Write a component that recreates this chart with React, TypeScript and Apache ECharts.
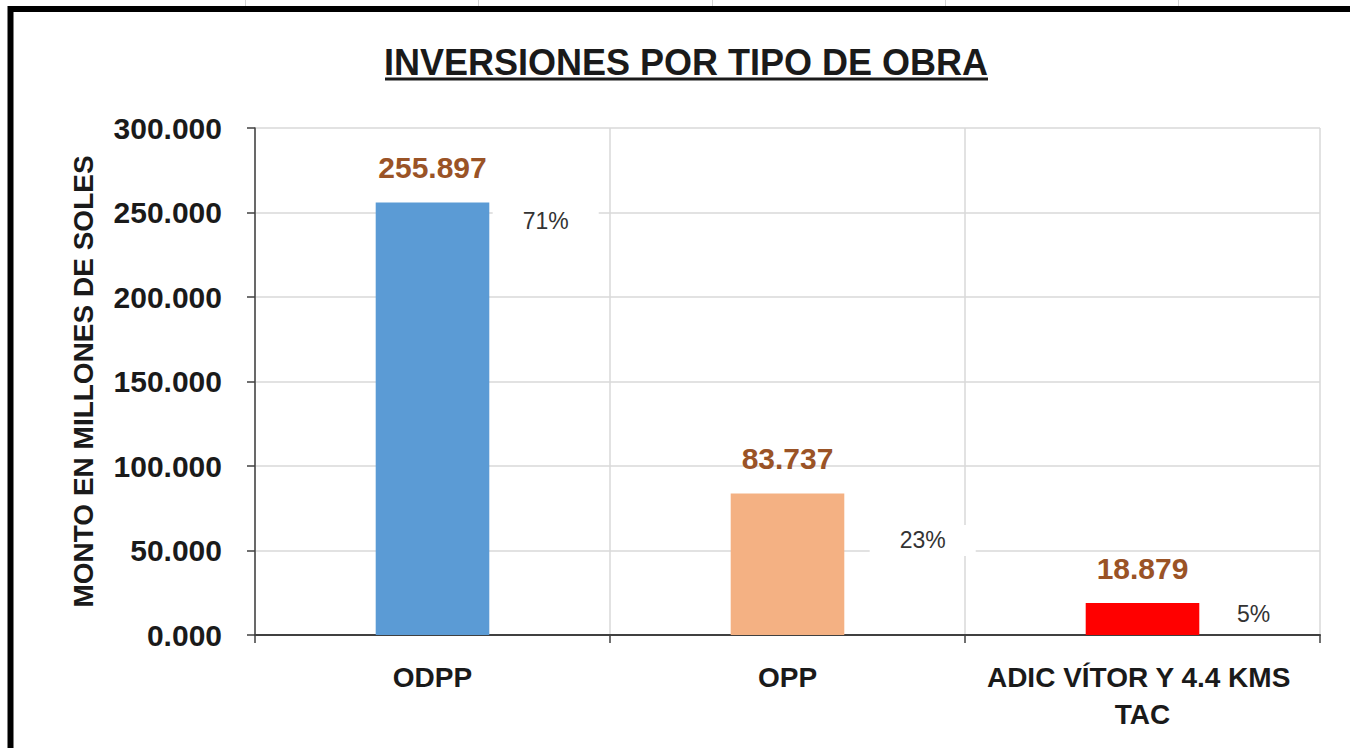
import React, { useEffect, useRef } from "react";
import * as echarts from "echarts";

const categories = ["ODPP", "OPP", "ADIC VÍTOR Y 4.4 KMS TAC"];
const values = [255.897, 83.737, 18.879];
const percentLabels = ["71%", "23%", "5%"];
const barColors = ["#5B9BD5", "#F4B183", "#FF0000"];
const yTicks = { min: 0, max: 300, interval: 50 };
const titleText = "INVERSIONES POR TIPO DE OBRA";
const yAxisName = "MONTO EN MILLONES DE SOLES";
// label anchor offsets (px) relative to each bar's top-left corner
const percentOffsets = [
  [170, 18],
  [192, 47],
  [168, 11],
];

const FONT = "'Liberation Sans', Arial, sans-serif";

export default function App() {
  const ref = useRef<HTMLDivElement>(null);
  useEffect(() => {
    if (!ref.current) return;
    const chart = echarts.init(ref.current, null, { renderer: "svg" });
    const gridLines = [245, 478, 712, 945, 1178].map((x) => ({
      type: "line",
      shape: { x1: x + 0.5, y1: 0, x2: x + 0.5, y2: 6 },
      style: { stroke: "#d4d4d4", lineWidth: 1 },
      silent: true,
    }));
    chart.setOption({
      animation: false,
      backgroundColor: "#ffffff",
      textStyle: { fontFamily: FONT },
      grid: { left: 255, right: 30, top: 128, bottom: 113, containLabel: false },
      graphic: [
        ...gridLines,
        {
          type: "rect",
          shape: { x: 10.5, y: 9, width: 2000, height: 2000 },
          style: { fill: "none", stroke: "#000000", lineWidth: 6 },
          silent: true,
        },
        {
          type: "text",
          x: 686,
          y: 62,
          style: {
            text: titleText,
            font: `bold 36px ${FONT}`,
            fill: "#1a1a1a",
            textAlign: "center",
            textVerticalAlign: "middle",
          },
        },
        {
          type: "line",
          shape: { x1: 385, y1: 79, x2: 988, y2: 79 },
          style: { stroke: "#1a1a1a", lineWidth: 3 },
        },
      ],
      xAxis: {
        type: "category",
        data: categories,
        axisLine: { show: true, lineStyle: { color: "#404040", width: 2 } },
        axisTick: { show: true, length: 8, lineStyle: { color: "#404040", width: 1.5 } },
        splitLine: { show: true, interval: 0, lineStyle: { color: "#d9d9d9", width: 1.5 } },
        axisLabel: {
          interval: 0,
          margin: 24,
          color: "#1a1a1a",
          fontWeight: "bold",
          fontSize: 28,
          fontFamily: FONT,
          lineHeight: 37,
          width: 345,
          overflow: "break",
        },
      },
      yAxis: {
        type: "value",
        min: yTicks.min,
        max: yTicks.max,
        interval: yTicks.interval,
        name: yAxisName,
        nameLocation: "middle",
        nameGap: 158,
        nameRotate: 90,
        nameTextStyle: {
          fontSize: 28,
          fontWeight: "bold",
          color: "#1a1a1a",
          fontFamily: FONT,
        },
        axisLine: { show: true, lineStyle: { color: "#404040", width: 1.5 } },
        axisTick: { show: true, length: 8, lineStyle: { color: "#404040", width: 1.5 } },
        splitLine: { show: true, lineStyle: { color: "#d9d9d9", width: 1.5 } },
        axisLabel: {
          margin: 33,
          color: "#1a1a1a",
          fontWeight: "bold",
          fontSize: 30,
          fontFamily: FONT,
          formatter: (v: number) => v.toFixed(3),
        },
      },
      series: [
        {
          type: "bar",
          barWidth: "32%",
          barGap: "-100%",
          data: values.map((v, i) => ({ value: v, itemStyle: { color: barColors[i] } })),
          label: {
            show: true,
            position: "top",
            distance: 20,
            color: "#9A5326",
            fontWeight: "bold",
            fontSize: 30,
            fontFamily: FONT,
            formatter: (p: any) => Number(p.value).toFixed(3),
          },
          z: 2,
        },
        {
          type: "bar",
          barWidth: "32%",
          barGap: "-100%",
          silent: true,
          itemStyle: { color: "rgba(0,0,0,0)" },
          data: values.map((v, i) => ({
            value: v,
            label: {
              show: true,
              position: percentOffsets[i],
              align: "center",
              verticalAlign: "middle",
              formatter: percentLabels[i],
              color: "#333333",
              fontSize: 23,
              fontFamily: FONT,
              backgroundColor: "#ffffff",
              padding: [4, 30],
            },
          })),
          z: 3,
        },
      ],
    });
    return () => chart.dispose();
  }, []);
  return (
    <div
      ref={ref}
      style={{ position: "fixed", left: 0, top: 0, width: 1350, height: 748 }}
    />
  );
}
